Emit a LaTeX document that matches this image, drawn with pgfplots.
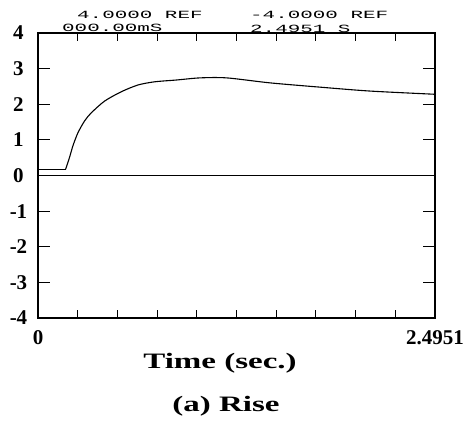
\documentclass[border=0pt]{standalone}
\usepackage{pgfplots}
\pgfplotsset{compat=1.18}
\usepackage{fontspec}
\setmainfont{Liberation Serif}
\newfontfamily\plotterfont{Liberation Mono}
\usepackage{graphicx}
\begin{document}
\begin{tikzpicture}[x=1pt,y=1pt]
\useasboundingbox (-38,-112) rectangle (431,318);
\begin{axis}[
  at={(0,0)}, anchor=south west,
  scale only axis, width=397pt, height=285pt,
  xmin=0, xmax=2.4951, ymin=-4, ymax=4,
  axis line style={line width=1.1pt},
  tick align=inside,
  major tick length=12pt,
  tick style={line width=0.9pt, black},
  xtick style={/pgfplots/major tick length=8pt},
  xtick={0,0.24951,0.49902,0.74853,0.99804,1.24755,1.49706,1.74657,1.99608,2.24559,2.4951},
  xticklabels={0,,,,,,,,,,2.4951},
  ytick={-4,-3,-2,-1,0,1,2,3,4},
  yticklabels={-4,-3,-2,-1,0,1,2,3,4},
  xticklabel style={font=\fontsize{21}{21}\selectfont\bfseries, yshift=-9pt},
  yticklabel style={font=\fontsize{21}{21}\selectfont\bfseries, anchor=center, xshift=-19.5pt},
  xtick pos=both, ytick pos=both,
  clip=false,
]
\addplot[black, line width=0.9pt] coordinates {(0,0) (2.4951,0)};
\addplot[black, line width=1.1pt] coordinates {(0,0.18) (0.174,0.18)};
\addplot[black, line width=1.1pt, smooth, tension=0.45] coordinates {
(0.174,0.18) (0.199,0.52) (0.220,0.84) (0.251,1.2) (0.294,1.54)
(0.335,1.76) (0.419,2.09) (0.523,2.35) (0.628,2.54) (0.733,2.63) (0.869,2.68)
(1.018,2.74) (1.186,2.74) (1.458,2.60) (1.772,2.48) (2.087,2.37) (2.4951,2.28)
};
\end{axis}
% header texts (px -> axis coords: x-38, 318-y)
\node[anchor=west, inner sep=0pt] at (39,303) {\scalebox{1.9}[1]{\plotterfont\fontsize{11}{11}\selectfont 4.0000 REF}};
\node[anchor=west, inner sep=0pt] at (24,290.5) {\scalebox{1.9}[1]{\plotterfont\fontsize{11}{11}\selectfont 000.00mS}};
\node[anchor=west, inner sep=0pt] at (212,303) {\scalebox{1.9}[1]{\plotterfont\fontsize{11}{11}\selectfont -4.0000 REF}};
\node[anchor=west, inner sep=0pt] at (212,289.5) {\scalebox{1.9}[1]{\plotterfont\fontsize{11}{11}\selectfont 2.4951 S}};
\node[inner sep=0pt] at (182,-45) {\scalebox{1.5}[1]{\fontsize{22}{22}\selectfont\bfseries Time (sec.)}};
\node[inner sep=0pt] at (188,-88) {\scalebox{1.5}[1]{\fontsize{22}{22}\selectfont\bfseries (a) Rise}};
\end{tikzpicture}
\end{document}
